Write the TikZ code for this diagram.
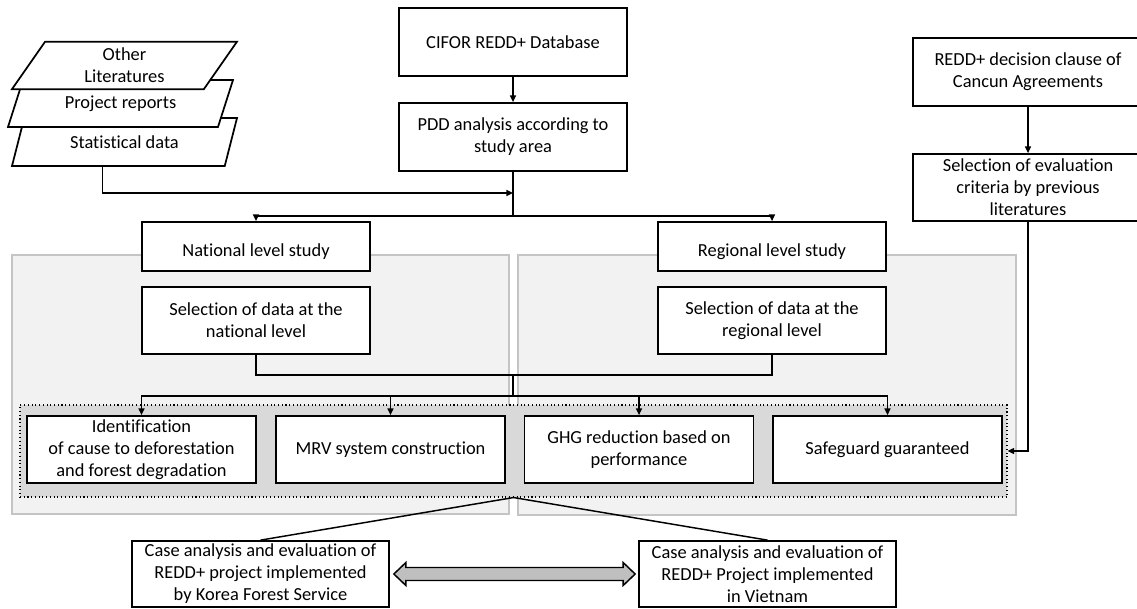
\documentclass[tikz,border=0pt]{standalone}
\usepackage{fontspec}
\setmainfont{Carlito}[Ligatures={NoCommon}]
\usetikzlibrary{arrows.meta,shapes.geometric,calc}
\definecolor{panelfill}{HTML}{F2F2F2}
\definecolor{panelline}{HTML}{C4C4C4}
\definecolor{grpfill}{HTML}{D9D9D9}
\definecolor{dblfill}{HTML}{BFBFBF}
\begin{document}
\begin{tikzpicture}[x=0.75pt,y=-0.75pt,
  every node/.style={font=\fontsize{13.8pt}{16.5pt}\selectfont},
  sz/.style 2 args={minimum width={#1*0.75pt},minimum height={#2*0.75pt}},
  box/.style={draw,line width=1.3pt,fill=white,align=center,inner sep=0pt},
  para/.style={draw,line width=1.3pt,fill=white,align=center,inner sep=0pt,
    trapezium,trapezium left angle=46.5,trapezium right angle=133.5,
    trapezium stretches body},
  lowtext/.style={text height=1.55em,text depth=0.07em},
  panel/.style={draw=panelline,line width=0.9pt,fill=panelfill,inner sep=0pt},
  grp/.style={draw,dotted,line width=0.8pt,fill=grpfill,inner sep=0pt},
  conn/.style={line width=1.1pt},
  arr/.style={conn,-{Triangle[length=5pt,width=4.5pt]}},
  dbl/.style={draw,line width=1.1pt,fill=dblfill,line join=miter}
]
\useasboundingbox (0,0) rectangle (1137,609);
\clip (0,0) rectangle (1137,609);

% background panels
\node[panel,sz={497}{259}] (panl) at (260.5,384.5) {};
\node[panel,sz={498}{260}] (panr) at (767,385) {};

% data sources (stacked)
\node[para,sz={225}{48}] (stat) at (124.5,142) {Statistical data};
\node[para,sz={225}{47}] (proj) at (120.5,103.5) {Project reports};
\node[para,sz={225}{47.5}] (oth) at (124.5,65.4) {Other\\Literatures};

% top centre
\node[box,sz={228}{68}] (cifor) at (513,42) {CIFOR REDD+ Database};
\node[box,sz={228}{68}] (pdd) at (513,137) {PDD analysis according to\\study area};

% right column
\node[box,sz={230}{68}] (cancun) at (1028,72) {REDD+ decision clause of\\Cancun Agreements};
\node[box,sz={230}{67}] (crit) at (1028,187.5) {Selection of evaluation\\criteria by previous\\literatures};

% level studies
\node[box,lowtext,sz={228}{49}] (nat) at (256,246.5) {National level study};
\node[box,lowtext,sz={228}{49}] (reg) at (772,246.5) {Regional level study};
\node[box,sz={228}{67}] (seln) at (256,320.5) {Selection of data at the\\national level};
\node[box,sz={228}{67}] (selr) at (772,320.5) {Selection of data at the\\regional level};

% evaluation group
\node[grp,sz={987}{92}] (grp) at (513.5,451) {};
\node[box,sz={229}{67}] (b1) at (141.5,449.5) {Identification\\of cause to deforestation\\and forest degradation};
\node[box,sz={229}{67}] (b2) at (390.5,449.5) {MRV system construction};
\node[box,sz={229}{67}] (b3) at (639,449.5) {GHG reduction based on\\performance};
\node[box,sz={229}{67}] (b4) at (887.5,449.5) {Safeguard guaranteed};

% case studies
\node[box,sz={257}{66}] (kfs) at (260.5,574) {Case analysis and evaluation of\\REDD+ project implemented\\by Korea Forest Service};
\node[box,sz={257}{66}] (vn) at (767.5,574) {Case analysis and evaluation of\\REDD+ Project implemented\\in Vietnam};

% junction coordinates
\coordinate (statb) at ($(stat.south)+(-22,0)$);
\coordinate (m1) at (513,193);
\coordinate (j1) at (513,216);
\coordinate (j2) at (513,375);
\coordinate (j3) at (513,396);

% connectors
\draw[arr] (cifor.south) -- (pdd.north);
\draw[arr] (statb) |- (m1);
\draw[conn] (pdd.south) -- (j1);
\draw[arr] (j1) -| (nat.north);
\draw[arr] (j1) -| (reg.north);
\draw[conn] (seln.south) |- (j2);
\draw[conn] (selr.south) |- (j2);
\draw[conn] (j2) -- (j3);
\draw[arr] (j3) -| (b1.north);
\draw[arr] (j3) -| (b2.north);
\draw[arr] (j3) -| (b3.north);
\draw[arr] (j3) -| (b4.north);
\draw[arr] (cancun.south) -- (crit.north);
\draw[arr] (crit.south) |- (grp.east);
\draw[conn] (grp.south) -- (kfs.north);
\draw[conn] (grp.south) -- (vn.north);

% double arrow between case studies
\coordinate (L) at ($(kfs.east)+(4,0)$);
\coordinate (R) at ($(vn.west)+(-3,0)$);
\draw[dbl] (L) -- ($(L)+(12,-11.5)$) -- ($(L)+(12,-6.5)$) -- ($(R)+(-12,-6.5)$)
  -- ($(R)+(-12,-11.5)$) -- (R) -- ($(R)+(-12,11.5)$) -- ($(R)+(-12,6.5)$)
  -- ($(L)+(12,6.5)$) -- ($(L)+(12,11.5)$) -- cycle;
\end{tikzpicture}
\end{document}
